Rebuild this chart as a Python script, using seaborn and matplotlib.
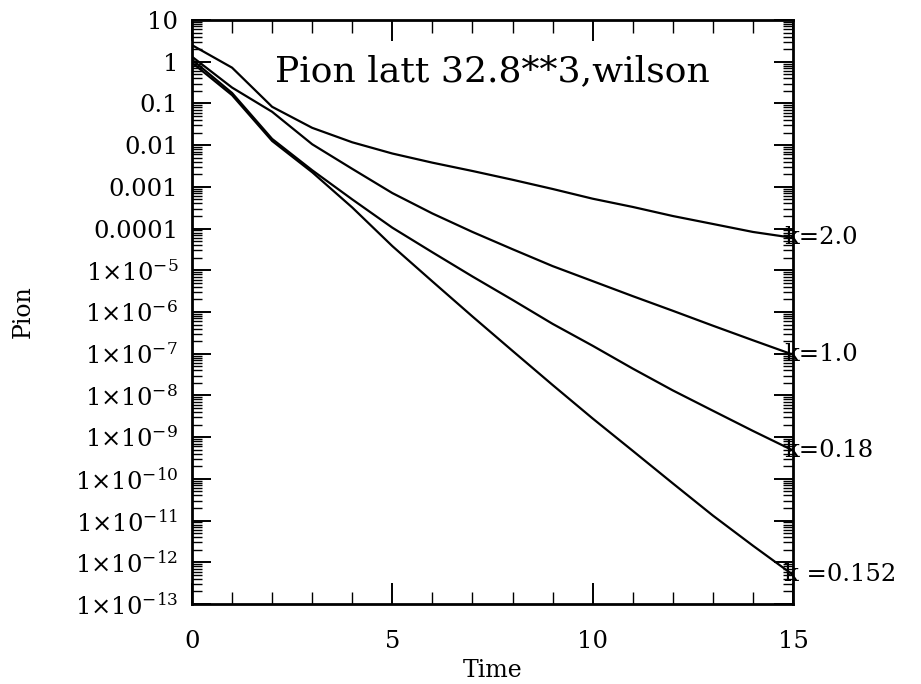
import matplotlib
matplotlib.use("Agg")
import matplotlib.pyplot as plt
import seaborn as sns
import pandas as pd
import numpy as np
from matplotlib.ticker import LogLocator, FixedLocator, MultipleLocator, NullFormatter

# ---- data ----
time = list(range(16))
k_labels = ["k=2.0", "k=1.0", "k=0.18", "k =0.152"]
pion_k2_0 = [2.5, 0.72, 0.083, 0.026, 0.0117, 6.3e-3, 3.8e-3, 2.4e-3, 1.48e-3, 8.9e-4,
             5.2e-4, 3.3e-4, 2.0e-4, 1.29e-4, 8.3e-5, 6.0e-5]
pion_k1_0 = [1.32, 0.24, 0.063, 0.0105, 2.7e-3, 7.1e-4, 2.3e-4, 8.3e-5, 3.2e-5, 1.26e-5,
             5.5e-6, 2.4e-6, 1.07e-6, 4.7e-7, 2.1e-7, 9.5e-8]
pion_k0_18 = [1.12, 0.178, 0.0141, 2.5e-3, 5.0e-4, 1.05e-4, 2.7e-5, 7.1e-6, 1.95e-6, 5.2e-7,
              1.55e-7, 4.4e-8, 1.32e-8, 4.3e-9, 1.41e-9, 4.8e-10]
pion_k0_152 = [0.95, 0.158, 0.0126, 2.24e-3, 3.2e-4, 3.8e-5, 5.4e-6, 7.8e-7, 1.17e-7, 1.78e-8,
               2.8e-9, 4.7e-10, 7.8e-11, 1.32e-11, 2.5e-12, 5.0e-13]
series = [pion_k2_0, pion_k1_0, pion_k0_18, pion_k0_152]

ytick_vals = [1e1, 1e0, 1e-1, 1e-2, 1e-3, 1e-4, 1e-5, 1e-6, 1e-7, 1e-8, 1e-9, 1e-10,
              1e-11, 1e-12, 1e-13]
ytick_labels = ["10", "1", "0.1", "0.01", "0.001", "0.0001"] + \
    [r"$1{\times}10^{-%d}$" % e for e in range(5, 14)]
xtick_vals = [0, 5, 10, 15]

df = pd.DataFrame({
    "Time": time * len(series),
    "Pion": [v for s in series for v in s],
    "k": [lab for lab in k_labels for _ in time],
})

# ---- style ----
sns.set_style("ticks")
plt.rcParams["font.family"] = ["DejaVu Serif"]
plt.rcParams["mathtext.fontset"] = "dejavuserif"
for key in ["text.color", "axes.labelcolor", "xtick.color", "ytick.color",
            "xtick.labelcolor", "ytick.labelcolor"]:
    plt.rcParams[key] = "black"

fig = plt.figure(figsize=(9.21, 6.84), dpi=100)
ax = fig.add_axes([192 / 921, 1 - 604 / 684, (793 - 192) / 921, (604 - 20) / 684])

sns.lineplot(data=df, x="Time", y="Pion", hue="k", palette=["black"] * 4,
             legend=False, linewidth=1.6, ax=ax)

ax.set_yscale("log")
ax.set_xlim(0, 15)
ax.set_ylim(1e-13, 10)

ax.yaxis.set_major_locator(FixedLocator(ytick_vals))
ax.set_yticklabels(ytick_labels)
ax.yaxis.set_minor_locator(LogLocator(base=10, subs=np.arange(2, 10), numticks=100))
ax.yaxis.set_minor_formatter(NullFormatter())
ax.xaxis.set_major_locator(FixedLocator(xtick_vals))
ax.xaxis.set_minor_locator(MultipleLocator(1))

for s in ax.spines.values():
    s.set_linewidth(2.0)
    s.set_color("black")

ax.tick_params(axis="both", which="both", direction="in", top=True, right=True,
               color="black")
ax.tick_params(axis="y", which="major", length=14, width=1.4, labelsize=17.5, pad=10)
ax.tick_params(axis="y", which="minor", length=7, width=1.0)
ax.tick_params(axis="x", which="major", length=15, width=1.4, labelsize=17.5, pad=19)
ax.tick_params(axis="x", which="minor", length=9, width=1.0)

ax.set_xlabel("Time", fontsize=17, labelpad=4)
ax.set_ylabel("Pion", fontsize=17)
ax.yaxis.set_label_coords(-0.262, 0.5)

ax.text(0.5, 0.913, "Pion latt 32.8**3,wilson", transform=ax.transAxes,
        ha="center", va="center", fontsize=26)

for lab, s in zip(k_labels, series):
    ax.text(14.78, s[-1], lab, ha="left", va="center", fontsize=17.5, clip_on=False)

fig.savefig("out.png", dpi=100)
